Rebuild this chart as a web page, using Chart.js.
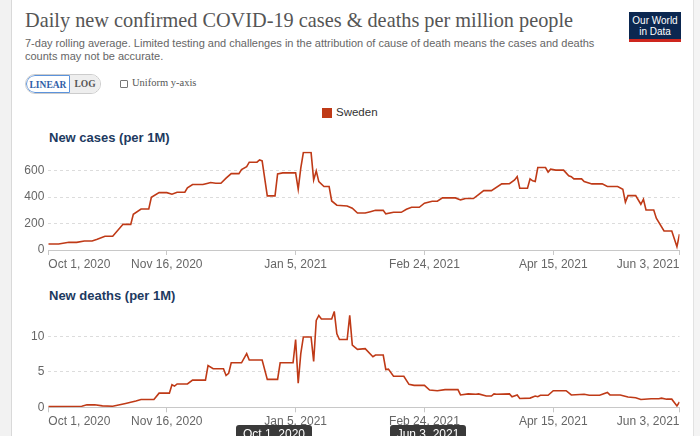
<!DOCTYPE html>
<html>
<head>
<meta charset="utf-8">
<script src="https://cdn.jsdelivr.net/npm/chart.js@4.4.0/dist/chart.umd.min.js"></script>
<style>
  html, body { margin:0; padding:0; width:700px; height:436px; overflow:hidden; background:#fff; }
  #page { position:relative; width:700px; height:436px; }
  .abs { position:absolute; white-space:nowrap; }
  #leftstrip { left:0; top:0; width:11px; height:436px; background:#f2f2f2; border-right:1px solid #d9d9d9; }
  #rightstrip { left:693px; top:0; width:7px; height:436px; background:#f4f4f4; border-left:1px solid #e2e2e2; }
  #title { left:25px; top:7px; font-family:"Liberation Serif", serif; font-size:22px; color:#555; transform:scaleX(0.922); transform-origin:0 0; }
  .sub { left:25px; font-family:"Liberation Sans", Arial, sans-serif; font-size:11px; color:#666; }
  #logo { left:629px; top:12px; width:52px; height:30px; background:#0b2750; color:#fff; font-family:"Liberation Sans", Arial, sans-serif; font-size:10px; line-height:11px; text-align:center; box-sizing:border-box; padding-top:3px; border-bottom:3px solid #ce261e; }
  #btns { left:25px; top:74px; height:18px; border:1px solid #ccc; border-radius:10px; overflow:hidden; display:flex; font-family:"Liberation Serif", serif; font-weight:bold; font-size:9.5px; }
  #btnLin { width:44px; height:18px; line-height:18px; text-align:center; color:#2f5ea8; border:1px solid #5b93dc; border-radius:10px 0 0 10px; box-sizing:border-box; background:#fff; }
  #btnLog { width:30px; height:18px; line-height:18px; text-align:center; color:#555; background:#eee; }
  #chk { left:120px; top:80px; width:6px; height:6px; border:1px solid #777; border-radius:1px; }
  #uni { left:132px; top:77px; font-family:"Liberation Serif", serif; font-size:10.5px; color:#555; }
  #legsq { left:322px; top:108px; width:10px; height:10px; background:#bf3a17; }
  #legtx { left:336px; top:106px; font-family:"Liberation Sans", Arial, sans-serif; font-size:11.5px; color:#333; }
  .ctitle { left:49px; font-family:"Liberation Sans", Arial, sans-serif; font-weight:bold; font-size:13px; color:#1d3a5f; }
  canvas { position:absolute; left:0; }
  .tip { top:425px; height:16px; background:#3a3a3a; color:#fff; border-radius:3px; font-family:"Liberation Sans", Arial, sans-serif; font-size:12px; line-height:18px; text-align:center; z-index:5; }
</style>
</head>
<body>
<div id="page">
  <div id="leftstrip" class="abs"></div>
  <div id="rightstrip" class="abs"></div>
  <div id="title" class="abs">Daily new confirmed COVID-19 cases &amp; deaths per million people</div>
  <div class="abs sub" style="top:37px">7-day rolling average. Limited testing and challenges in the attribution of cause of death means the cases and deaths</div>
  <div class="abs sub" style="top:50px">counts may not be accurate.</div>
  <div id="logo" class="abs">Our World<br>in Data</div>
  <div id="btns" class="abs"><div id="btnLin">LINEAR</div><div id="btnLog">LOG</div></div>
  <div id="chk" class="abs"></div>
  <div id="uni" class="abs">Uniform y-axis</div>
  <div id="legsq" class="abs"></div>
  <div id="legtx" class="abs">Sweden</div>
  <div class="abs ctitle" style="top:130px">New cases (per 1M)</div>
  <div class="abs ctitle" style="top:288px">New deaths (per 1M)</div>
  <canvas id="c1" width="700" height="135" style="top:140px"></canvas>
  <canvas id="c2" width="700" height="135" style="top:300px"></canvas>
  <div class="abs tip" style="left:236px; width:76px;">Oct 1, 2020</div>
  <div class="abs tip" style="left:390px; width:76px;">Jun 3, 2021</div>
</div>
<script>
// Days since Oct 1, 2020
const tickDays = [0, 46, 96, 146, 196, 245];
const tickLabels = ["Oct 1, 2020", "Nov 16, 2020", "Jan 5, 2021", "Feb 24, 2021", "Apr 15, 2021", "Jun 3, 2021"];

const caseDays = [0,4,8,11,14,17,19,22,25,29,32,33,36,39,40,43,46,48,50,53,54,56,60,62,63,65,67,69,71,74,75,77,78,81,82,83,85,88,89,91,96,97,98,99,102,103,104,105,107,109,110,112,116,118,120,123,125,127,130,131,134,137,139,141,144,146,149,151,153,158,160,162,165,167,169,172,176,179,181,182,183,186,187,188,189,190,193,194,195,197,200,202,203,204,207,208,211,215,217,221,223,224,225,228,230,231,232,235,236,239,242,244,245];
const caseValues = [45,45,58,58,68,68,81,104,104,194,194,270,310,310,399,434,434,422,437,437,470,495,495,505,510,505,505,543,578,578,608,631,664,664,682,674,409,409,576,583,583,460,619,737,737,530,598,517,480,480,371,339,333,316,280,280,290,300,300,273,285,285,308,323,323,354,369,369,394,394,379,389,389,419,449,449,500,502,530,555,467,467,538,523,518,624,624,589,611,604,604,561,555,538,538,518,500,500,480,480,460,361,411,411,346,384,303,303,240,144,144,25,119];

const deathDays = [0,13,15,18,21,25,30,34,36,41,43,47,48,49,50,54,56,61,62,64,68,69,70,71,75,77,78,83,85,89,90,95,96,97,98,99,102,103,104,105,106,110,111,112,113,116,117,118,120,123,126,127,130,131,132,134,138,140,142,146,148,151,154,159,160,163,166,167,170,172,173,174,179,180,182,183,187,189,190,191,194,196,201,203,208,210,214,217,218,222,225,228,230,234,237,238,240,242,244,245];
const deathValues = [0.1,0.15,0.35,0.35,0.2,0.15,0.55,0.9,1.1,1.1,2.0,2.0,3.2,3.0,3.3,3.3,3.85,3.85,5.9,5.45,5.45,4.5,4.8,6.3,6.3,7.6,6.7,6.7,3.95,3.95,6.3,6.3,9.6,3.4,7.6,9.95,9.95,6.5,12.3,13.0,12.5,12.5,13.55,10.4,9.6,9.6,13.0,8.8,8.2,8.3,7.15,7.4,7.4,5.35,5.4,4.4,4.4,3.25,3.1,3.1,2.45,2.35,2.5,2.5,1.75,1.9,1.85,1.9,1.6,1.6,1.9,1.85,1.9,1.5,1.75,1.25,1.3,1.6,1.5,1.7,1.7,2.35,2.35,1.75,1.85,1.7,1.7,2.1,1.75,1.75,1.45,1.35,1.1,1.2,1.2,1.3,1.15,1.15,0.2,0.75];

const caseTicks = [0, 200, 400, 600];
const deathTicks = [0, 5, 10];

const LINE = '#bf3a17';
const FONT = { family: '"Liberation Sans", Arial, sans-serif', size: 12 };

function makeChart(id, days, values, yTicks, yMax, padTop, xAxisH) {
  return new Chart(document.getElementById(id), {
    type: 'line',
    data: { datasets: [{ data: days.map((d, i) => ({ x: d, y: values[i] })), borderColor: LINE, borderWidth: 1.6, pointRadius: 0, tension: 0, fill: false }] },
    options: {
      responsive: false, animation: false, devicePixelRatio: 1,
      layout: { padding: { top: padTop, right: 20.5, left: 0, bottom: 0 } },
      plugins: { legend: { display: false }, tooltip: { enabled: false } },
      scales: {
        x: {
          type: 'linear', min: 0, max: 245,
          afterBuildTicks: s => { s.ticks = tickDays.map(v => ({ value: v })); },
          afterFit: s => { s.height = xAxisH; },
          ticks: { callback: (v, i) => tickLabels[i], align: 'inner', color: '#666', font: FONT, padding: 2, maxRotation: 0, autoSkip: false },
          grid: { drawOnChartArea: false, drawTicks: true, tickLength: 5, color: '#c8c8c8' },
          border: { display: true, color: '#c8c8c8' }
        },
        y: {
          min: 0, max: yMax,
          afterBuildTicks: s => { s.ticks = yTicks.map(v => ({ value: v })); },
          afterFit: s => { s.width = 48.3; },
          ticks: { color: '#666', font: FONT, padding: 4 },
          grid: { color: '#dcdcdc', drawTicks: false },
          border: { display: false, dash: [3, 3] }
        }
      }
    }
  });
}

makeChart('c1', caseDays, caseValues, caseTicks, 745, 11.5, 25);
makeChart('c2', deathDays, deathValues, deathTicks, 13.6, 10.7, 27.7);
</script>
</body>
</html>
